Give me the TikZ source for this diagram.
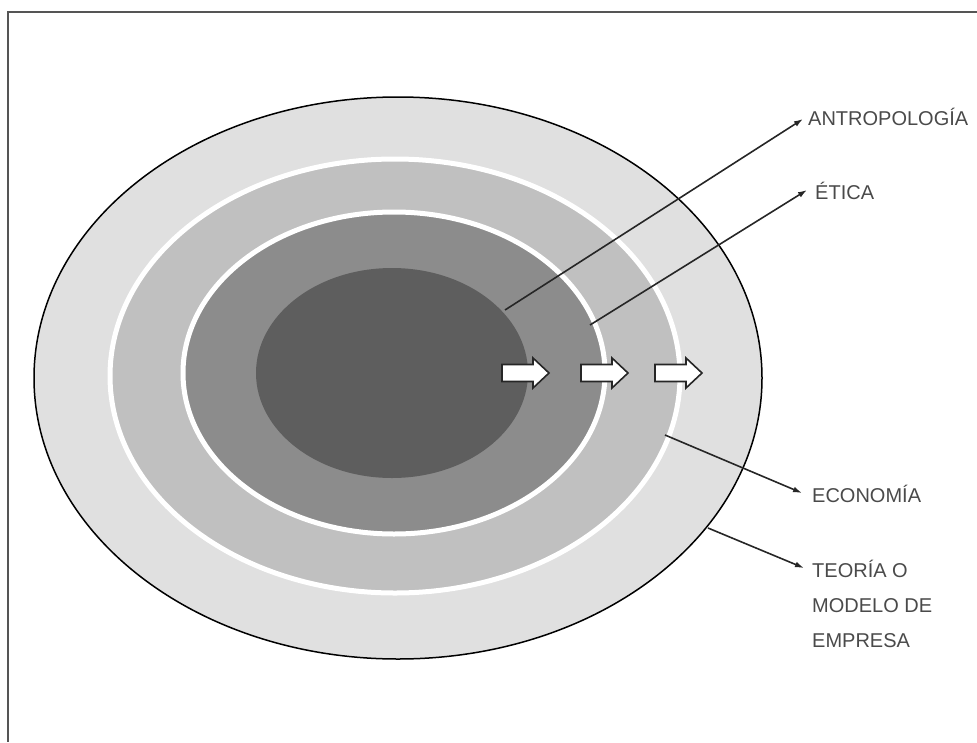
\documentclass[tikz,border=0pt]{standalone}
\usepackage{fontspec}
\setmainfont{Liberation Sans}
\usetikzlibrary{arrows.meta,shapes.geometric}
\definecolor{ringA}{HTML}{E0E0E0}
\definecolor{ringB}{HTML}{C0C0C0}
\definecolor{ringC}{HTML}{8C8C8C}
\definecolor{coreD}{HTML}{5E5E5E}
\definecolor{labelgray}{HTML}{4A4A4A}
\definecolor{framegray}{HTML}{555555}
\tikzset{
  zone/.style={ellipse, inner sep=0pt, outer sep=0pt},
  leader/.style={draw=black!85, line width=1.6pt, -{Latex[length=9pt,width=6pt]}},
  lbl/.style={inner sep=0pt, anchor=base west, text=labelgray, align=left,
              font=\fontsize{20}{35}\selectfont},
  blockarrow/.pic={
    \draw[fill=white, draw=black!85, line width=1.6pt, line join=miter]
      (0,-8.5) -- (31,-8.5) -- (31,-15) -- (47,0) -- (31,15) -- (31,8.5) -- (0,8.5) -- cycle;
  }
}
\begin{document}
\begin{tikzpicture}[x=1pt,y=-1pt]
\useasboundingbox (0,0) rectangle (977,742);
% frame
\draw[framegray, line width=2pt] (977,12) -- (8,12) -- (8,742);
% rings
\node[zone, fill=ringA, draw=black, line width=1.5pt, minimum width=728pt, minimum height=562pt] (outer) at (398,378) {};
\node[zone, fill=ringB, draw=white, line width=5pt, minimum width=570pt, minimum height=434pt] (eco) at (395,376) {};
\node[zone, fill=ringC, draw=white, line width=5pt, minimum width=422pt, minimum height=322pt] (eti) at (394,373) {};
\node[zone, fill=coreD, minimum width=272pt, minimum height=210pt] (core) at (392,373) {};
% block arrows
\pic at (502,373) {blockarrow};
\pic at (581,373) {blockarrow};
\pic at (655,373) {blockarrow};
% labels
\node[lbl] (antro) at (808,125) {ANTROPOLOGÍA};
\node[lbl] (etica) at (815,199) {ÉTICA};
\node[lbl] (econ) at (812,502) {ECONOMÍA};
\node[lbl] (teor) at (812,647) {TEORÍA O\\MODELO DE\\EMPRESA};
% leader start points
\coordinate (sAnt) at (505,310);
\coordinate (sEti) at (590,325);
\coordinate (sEco) at (665,435);
\coordinate (sTeo) at (708,528);
\draw[leader] (sAnt) -- ([xshift=-5pt,yshift=6pt]antro.base west);
\draw[leader] (sEti) -- ([xshift=-8pt,yshift=9pt]etica.base west);
\draw[leader] (sEco) -- ([xshift=-10pt,yshift=9pt]econ.base west);
\draw[leader] (sTeo) -- ([xshift=-8pt,yshift=79pt]teor.base west);
\end{tikzpicture}
\end{document}
